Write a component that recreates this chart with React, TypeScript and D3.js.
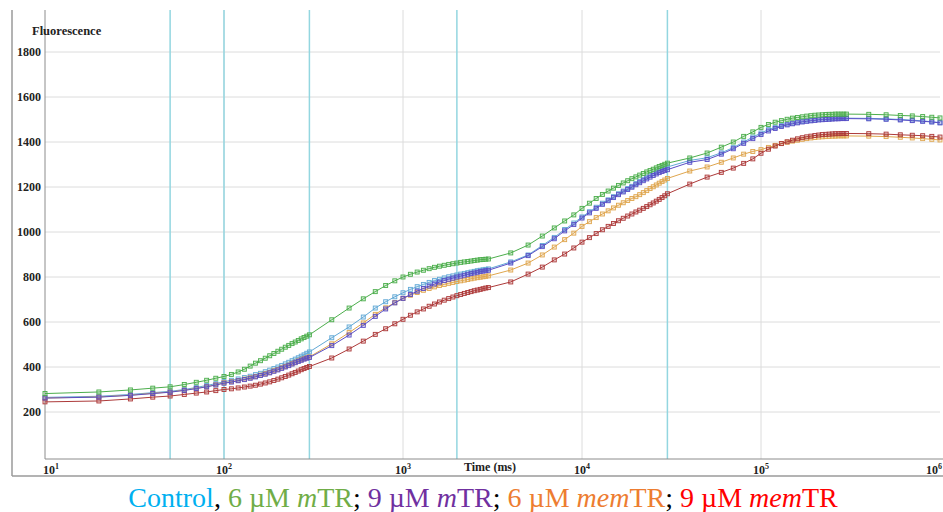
import React from 'react';
import * as d3 from 'd3';

// sample times (ms)
const times = [
  10, 20, 30, 40, 50, 60, 70, 80, 90, 100,
  110, 120, 130, 140, 150, 160, 170, 180, 190, 200,
  210, 220, 230, 240, 250, 260, 270, 280, 290, 300,
  400, 500, 600, 700, 800, 900, 1000,
  1100, 1200, 1300, 1400, 1500, 1600, 1700, 1800, 1900, 2000,
  2100, 2200, 2300, 2400, 2500, 2600, 2700, 2800, 2900, 3000,
  4000, 5000, 6000, 7000, 8000, 9000, 10000,
  11000, 12000, 13000, 14000, 15000, 16000, 17000, 18000, 19000, 20000,
  21000, 22000, 23000, 24000, 25000, 26000, 27000, 28000, 29000, 30000,
  40000, 50000, 60000, 70000, 80000, 90000, 100000,
  110000, 120000, 130000, 140000, 150000, 160000, 170000, 180000, 190000, 200000,
  210000, 220000, 230000, 240000, 250000, 260000, 270000, 280000, 290000, 300000,
  400000, 500000, 600000, 700000, 800000, 900000, 1000000,
];

const control = [
  265, 270, 278, 286, 292, 300, 309, 318, 326, 335,
  341, 347, 353, 359, 366, 372, 379, 386, 393, 400,
  407, 414, 421, 428, 435, 441, 448, 454, 461, 467,
  530, 578, 622, 662, 690, 712, 730,
  745, 757, 767, 776, 784, 790, 796, 801, 805, 809,
  813, 816, 819, 822, 825, 828, 830, 832, 834, 836,
  867, 898, 940, 976, 1011, 1040, 1067,
  1090, 1110, 1128, 1143, 1157, 1170, 1182, 1193, 1203, 1215,
  1225, 1234, 1243, 1251, 1259, 1266, 1273, 1279, 1284, 1289,
  1318, 1330, 1352, 1375, 1400, 1422, 1440,
  1455, 1465, 1473, 1479, 1484, 1488, 1491, 1494, 1496, 1498,
  1500, 1501, 1502, 1503, 1504, 1505, 1505, 1506, 1506, 1506,
  1505, 1503, 1500, 1497, 1494, 1490, 1486,
];

const mTR6 = [
  282, 289, 298, 306, 312, 322, 332, 341, 350, 358,
  367, 378, 390, 404, 417, 428, 439, 450, 460, 470,
  479, 488, 496, 504, 511, 518, 525, 531, 537, 543,
  610, 662, 703, 735, 762, 783, 800,
  812, 822, 830, 837, 843, 848, 852, 856, 859, 862,
  865, 867, 869, 871, 873, 875, 877, 878, 879, 880,
  907, 942, 982, 1018, 1049, 1076, 1105,
  1128, 1149, 1167, 1182, 1195, 1207, 1218, 1228, 1237, 1245,
  1253, 1260, 1267, 1273, 1279, 1285, 1291, 1296, 1301, 1306,
  1329, 1351, 1377, 1400, 1425, 1445, 1465,
  1478, 1488, 1495, 1501, 1506, 1509, 1512, 1515, 1517, 1519,
  1520, 1521, 1522, 1523, 1523, 1524, 1524, 1524, 1524, 1524,
  1523, 1521, 1518, 1516, 1513, 1510, 1507,
];

const mTR9 = [
  262, 266, 274, 282, 288, 296, 304, 312, 320, 328,
  333, 339, 344, 350, 356, 362, 368, 374, 381, 387,
  394, 400, 406, 413, 419, 425, 430, 435, 439, 442,
  495, 542, 585, 625, 658, 685, 705,
  722, 737, 749, 760, 769, 777, 784, 790, 795, 800,
  804, 808, 812, 815, 818, 821, 824, 826, 828, 830,
  862, 895, 935, 970, 1005, 1033, 1062,
  1085, 1105, 1123, 1139, 1153, 1166, 1178, 1189, 1199, 1210,
  1219, 1228, 1236, 1244, 1251, 1258, 1264, 1269, 1273, 1277,
  1310, 1322, 1346, 1370, 1394, 1415, 1433,
  1449, 1460, 1469, 1476, 1481, 1485, 1489, 1492, 1494, 1496,
  1498, 1499, 1500, 1501, 1502, 1503, 1503, 1504, 1504, 1504,
  1503, 1501, 1498, 1495, 1492, 1489, 1485,
];

const memTR6 = [
  262, 267, 275, 283, 289, 297, 305, 313, 321, 330,
  335, 340, 346, 352, 358, 364, 370, 376, 383, 389,
  396, 402, 408, 415, 421, 427, 432, 437, 441, 445,
  503, 553, 596, 634, 663, 686, 705,
  719, 731, 741, 749, 756, 762, 767, 772, 776, 780,
  783, 786, 789, 792, 795, 797, 799, 801, 803, 805,
  831, 862, 898, 933, 966, 995, 1025,
  1046, 1064, 1080, 1094, 1107, 1119, 1130, 1140, 1149, 1157,
  1166, 1175, 1184, 1193, 1201, 1209, 1217, 1224, 1231, 1238,
  1271, 1289, 1310, 1329, 1346, 1358, 1366,
  1376, 1385, 1393, 1399, 1404, 1408, 1412, 1415, 1418, 1420,
  1422, 1423, 1424, 1425, 1426, 1426, 1427, 1427, 1427, 1427,
  1426, 1424, 1421, 1418, 1415, 1412, 1409,
];

const memTR9 = [
  245, 249, 258, 266, 271, 278, 284, 289, 295, 300,
  303, 307, 311, 315, 319, 324, 329, 334, 340, 346,
  352, 358, 364, 370, 376, 382, 388, 393, 398, 402,
  440, 480, 515, 545, 570, 592, 612,
  630, 645, 658, 670, 680, 689, 697, 704, 711, 717,
  722, 727, 731, 735, 739, 742, 745, 748, 751, 753,
  778, 813, 844, 876, 902, 929, 955,
  975, 993, 1010, 1025, 1038, 1050, 1061, 1071, 1080, 1089,
  1097, 1105, 1113, 1121, 1129, 1137, 1145, 1153, 1161, 1170,
  1213, 1244, 1265, 1284, 1305, 1325, 1350,
  1368, 1382, 1393, 1401, 1408, 1414, 1419, 1423, 1426, 1429,
  1431, 1433, 1434, 1435, 1436, 1437, 1437, 1438, 1438, 1438,
  1437, 1435, 1432, 1430, 1428, 1425, 1422,
];

const yTicks = [200, 400, 600, 800, 1000, 1200, 1400, 1600, 1800];
const decadeTicks = [10, 100, 1000, 10000, 100000, 1000000];
const decadeExp = ['1', '2', '3', '4', '5', '6'];
const markerTimes = [50, 100, 300, 2000, 30000];

const series = [
  { name: 'control', values: control, color: '#62a9d6' },
  { name: 'memTR6', values: memTR6, color: '#dfa64e' },
  { name: 'memTR9', values: memTR9, color: '#ad3a3a' },
  { name: 'mTR9', values: mTR9, color: '#5a4ec6' },
  { name: 'mTR6', values: mTR6, color: '#4cae4c' },
];

const legend = [
  { parts: [{ t: 'Control' }], color: '#00b0f0', sep: ', ' },
  { parts: [{ t: '6 µM ' }, { t: 'm', i: true }, { t: 'TR' }], color: '#70ad47', sep: '; ' },
  { parts: [{ t: '9 µM ' }, { t: 'm', i: true }, { t: 'TR' }], color: '#7030a0', sep: '; ' },
  { parts: [{ t: '6 µM ' }, { t: 'mem', i: true }, { t: 'TR' }], color: '#ed7d31', sep: '; ' },
  { parts: [{ t: '9 µM ' }, { t: 'mem', i: true }, { t: 'TR' }], color: '#ff0000', sep: '' },
];

const W = 943;
const H = 512;
const left = 45;
const right = 940;
const top = 10;
const bottom = 459;

export default function App() {
  const x = d3.scaleLog().domain([10, 1e6]).range([left, right]);
  const y = d3.scaleLinear().domain([0, 2000]).range([457, 7]);
  const line = d3
    .line<number>()
    .x((_, i) => x(times[i]))
    .y(d => y(d));

  const font = 'Liberation Serif, Times New Roman, serif';

  return (
    <div style={{ position: 'absolute', left: 0, top: 0 }}>
      <svg width={W} height={H} style={{ display: 'block', background: '#fff' }}>
        {/* grid */}
        {yTicks.map(t => (
          <line key={'h' + t} x1={left} x2={right} y1={y(t)} y2={y(t)} stroke="#dcdcdc" strokeWidth={1} />
        ))}
        {decadeTicks.slice(1, 5).map(t => (
          <line key={'v' + t} x1={x(t)} x2={x(t)} y1={top} y2={bottom} stroke="#dcdcdc" strokeWidth={1} />
        ))}
        {markerTimes.map(t => (
          <line key={'c' + t} x1={x(t)} x2={x(t)} y1={top} y2={bottom} stroke="#93d6e0" strokeWidth={1.5} />
        ))}

        {/* frame + axes */}
        <line x1={12} x2={12} y1={top} y2={476} stroke="#9a9a9a" strokeWidth={1.5} />
        <line x1={12} x2={W} y1={476} y2={476} stroke="#9a9a9a" strokeWidth={1.5} />
        <line x1={left} x2={left} y1={top} y2={bottom} stroke="#8c8c8c" strokeWidth={1} />
        <line x1={left} x2={W} y1={bottom} y2={bottom} stroke="#8c8c8c" strokeWidth={1} />

        {/* series */}
        {series.map(s => (
          <g key={s.name}>
            <path d={line(s.values) || ''} fill="none" stroke={s.color} strokeWidth={1} />
            {s.values.map((v, i) => (
              <rect
                key={i}
                x={x(times[i]) - 2}
                y={y(v) - 2}
                width={4}
                height={4}
                fill={s.color}
                fillOpacity={0.2}
                stroke={s.color}
                strokeWidth={0.9}
              />
            ))}
          </g>
        ))}

        {/* y tick labels */}
        {yTicks.map(t => (
          <text
            key={'yl' + t}
            x={41}
            y={y(t) + 4}
            textAnchor="end"
            fontFamily={font}
            fontWeight="bold"
            fontSize={12}
            fill="#222"
          >
            {t}
          </text>
        ))}
        <text x={32} y={35} fontFamily={font} fontWeight="bold" fontSize={12.5} fill="#222">
          Fluorescence
        </text>

        {/* x tick labels */}
        {decadeTicks.map((t, i) => {
          const last = i === decadeTicks.length - 1;
          const anchor = i === 0 ? 'start' : last ? 'end' : 'middle';
          const lx = i === 0 ? x(t) - 2 : last ? W - 1 : x(t);
          return (
            <text
              key={'xl' + t}
              x={lx}
              y={474}
              textAnchor={anchor}
              fontFamily={font}
              fontWeight="bold"
              fontSize={12}
              fill="#222"
            >
              10
              <tspan dy={-5} fontSize={8}>
                {decadeExp[i]}
              </tspan>
            </text>
          );
        })}
        <text x={490} y={471} textAnchor="middle" fontFamily={font} fontWeight="bold" fontSize={12} fill="#222">
          Time (ms)
        </text>

        {/* legend */}
        <text x={483} y={507} textAnchor="middle" fontFamily={font} fontSize={28}>
          {legend.map((l, i) => (
            <React.Fragment key={i}>
              {l.parts.map((p, j) => (
                <tspan key={j} fill={l.color} fontStyle={p.i ? 'italic' : 'normal'}>
                  {p.t}
                </tspan>
              ))}
              {l.sep && <tspan fill="#000">{l.sep}</tspan>}
            </React.Fragment>
          ))}
        </text>
      </svg>
    </div>
  );
}
